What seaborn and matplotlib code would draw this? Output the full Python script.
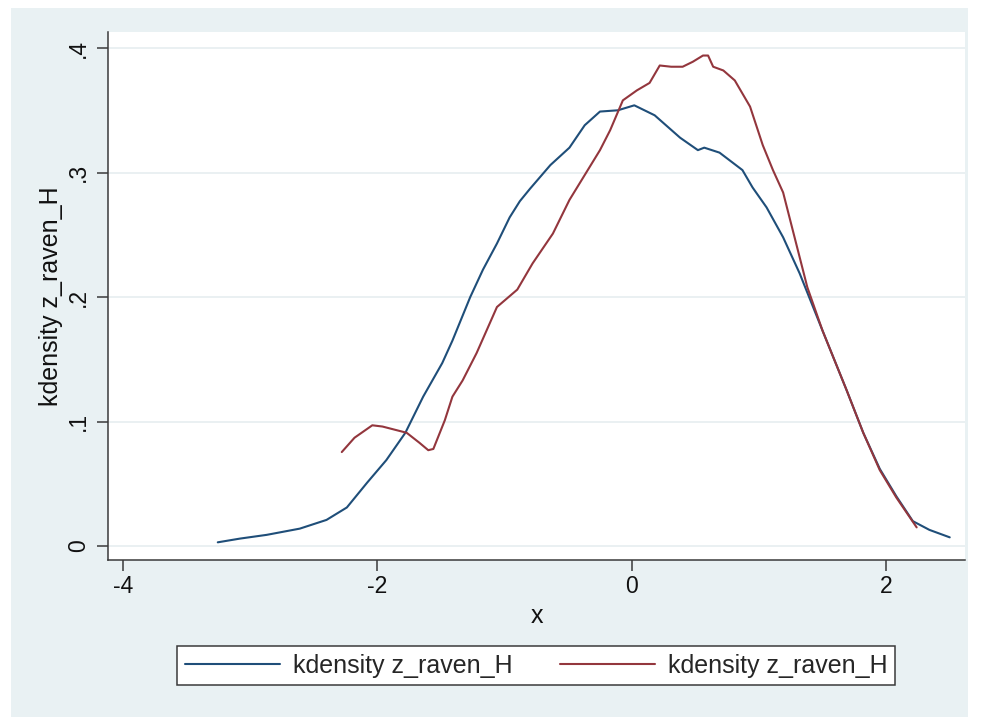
import matplotlib
matplotlib.use("Agg")
import matplotlib.pyplot as plt
import seaborn as sns
import pandas as pd
from matplotlib.patches import Rectangle

# ---- data ----
blue_x = [-3.255, -3.08, -2.87, -2.61, -2.40, -2.24, -2.08, -1.93, -1.78, -1.64,
          -1.49, -1.41, -1.27, -1.17, -1.06, -0.96, -0.88, -0.80, -0.64, -0.49, -0.37,
          -0.25, -0.11, 0.02, 0.18, 0.38, 0.52, 0.57, 0.69, 0.87, 0.95,
          1.06, 1.19, 1.32, 1.50, 1.69, 1.82, 1.95, 2.08, 2.21, 2.34, 2.50]
blue_y = [0.003, 0.006, 0.009, 0.014, 0.021, 0.031, 0.051, 0.069, 0.091, 0.120,
          0.147, 0.165, 0.200, 0.222, 0.243, 0.264, 0.277, 0.287, 0.306, 0.320, 0.338,
          0.349, 0.350, 0.354, 0.346, 0.328, 0.318, 0.320, 0.316, 0.302, 0.288,
          0.272, 0.248, 0.219, 0.173, 0.125, 0.091, 0.062, 0.040, 0.020, 0.013, 0.007]

red_x = [-2.28, -2.18, -2.04, -1.96, -1.77, -1.67, -1.60, -1.56, -1.47, -1.41,
         -1.33, -1.22, -1.06, -0.90, -0.78, -0.62, -0.49, -0.37, -0.25, -0.17,
         -0.07, 0.04, 0.14, 0.22, 0.31, 0.40, 0.48, 0.56, 0.60, 0.64,
         0.72, 0.81, 0.93, 1.03, 1.11, 1.19, 1.30, 1.38, 1.50, 1.69,
         1.82, 1.95, 2.08, 2.24]
red_y = [0.0755, 0.087, 0.097, 0.096, 0.091, 0.083, 0.077, 0.078, 0.101, 0.120,
         0.133, 0.155, 0.192, 0.206, 0.227, 0.251, 0.278, 0.298, 0.318, 0.334,
         0.358, 0.366, 0.372, 0.386, 0.385, 0.385, 0.389, 0.394, 0.394, 0.385,
         0.382, 0.374, 0.353, 0.322, 0.302, 0.284, 0.240, 0.208, 0.173, 0.125,
         0.091, 0.061, 0.039, 0.015]

series_label = "kdensity z_raven_H"
x_ticks = [-4, -2, 0, 2]
x_tick_labels = ["-4", "-2", "0", "2"]
y_ticks = [0, 0.1, 0.2, 0.3, 0.4]
y_tick_labels = ["0", ".1", ".2", ".3", ".4"]

df_blue = pd.DataFrame({"x": blue_x, "y": blue_y})
df_red = pd.DataFrame({"x": red_x, "y": red_y})

# ---- style ----
sns.set_theme(style="white")
plt.rcParams["font.family"] = ["Liberation Sans", "DejaVu Sans"]

W, H = 981, 717
fig = plt.figure(figsize=(W / 100, H / 100), dpi=100)
fig.patch.set_facecolor("white")
bg = "#E9F1F3"
fig.patches.append(Rectangle((11 / W, 0), (968 - 11) / W, 1 - 8 / H,
                             transform=fig.transFigure, facecolor=bg,
                             edgecolor="none", zorder=-10))

ax = fig.add_axes([108 / W, 1 - 560 / H, (965 - 108) / W, (560 - 32) / H])
ax.set_facecolor("white")

blue = "#1F4E79"
red = "#93363D"
sns.lineplot(data=df_blue, x="x", y="y", ax=ax, color=blue, lw=1.5,
             sort=False, label=series_label)
sns.lineplot(data=df_red, x="x", y="y", ax=ax, color=red, lw=1.5,
             sort=False, label=series_label)

ax.set_xlim(-4.118, 2.62)
ax.set_ylim(-0.0112, 0.4129)

ax.set_xticks(x_ticks)
ax.set_xticklabels(x_tick_labels)
ax.set_yticks(y_ticks)
ax.set_yticklabels(y_tick_labels, rotation=90, va="center")

ax.grid(axis="y", color="#E6EEF0", lw=1.2)
ax.grid(axis="x", visible=False)
ax.set_axisbelow(True)

for s in ["top", "right"]:
    ax.spines[s].set_visible(False)
for s in ["left", "bottom"]:
    ax.spines[s].set_color("#3A3A3A")
    ax.spines[s].set_linewidth(1.1)

ax.tick_params(axis="both", direction="out", length=8, width=1.1,
               color="#3A3A3A", labelsize=16.5, labelcolor="#111111",
               left=True, bottom=True)
ax.tick_params(axis="y", pad=5)
ax.tick_params(axis="x", pad=3)

ax.set_xlabel("x", fontsize=18, color="#111111", labelpad=4)
ax.set_ylabel(series_label, fontsize=18, color="#111111", labelpad=3)

leg = ax.legend(loc="center", bbox_to_anchor=(536 / W, 1 - 665.5 / H),
                bbox_transform=fig.transFigure, ncol=2, frameon=True,
                fancybox=False, fontsize=18, handlelength=3.8,
                handletextpad=0.52, columnspacing=1.9, borderpad=0.3)
frame = leg.get_frame()
frame.set_edgecolor("#3A3A3A")
frame.set_linewidth(1.1)
frame.set_facecolor("white")
frame.set_alpha(1)

fig.savefig("out.png", dpi=100, facecolor=fig.get_facecolor())
